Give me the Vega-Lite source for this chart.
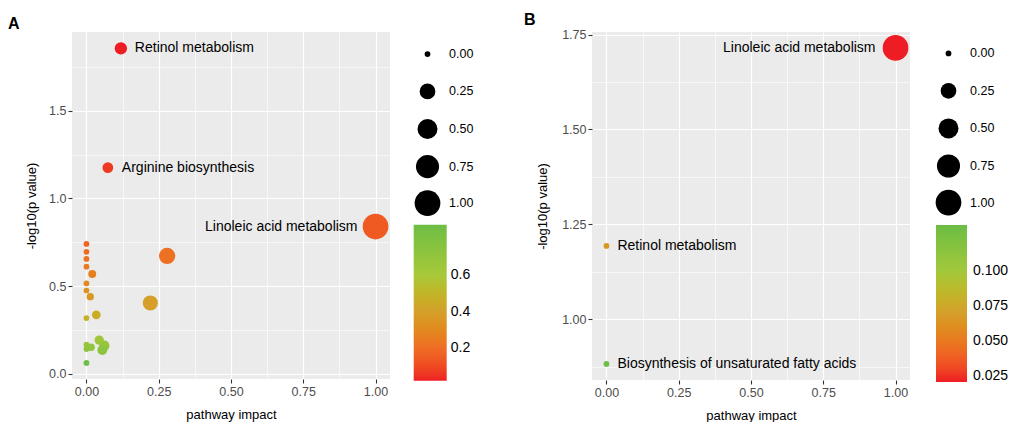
{
  "$schema": "https://vega.github.io/schema/vega-lite/v6.json",
  "background": "white",
  "padding": {"left": 8, "top": 12, "right": 2, "bottom": 2},
  "config": {
    "font": "Liberation Sans",
    "view": {"fill": "#EBEBEB", "stroke": null},
    "axis": {
      "domain": false,
      "tickColor": "#333333",
      "tickSize": 4,
      "tickWidth": 1.1,
      "labelColor": "#4D4D4D",
      "labelFontSize": 12.5,
      "labelFont": "Liberation Sans",
      "labelPadding": 2,
      "titleFont": "Liberation Sans",
      "titleFontSize": 13,
      "titleFontWeight": "normal",
      "titleColor": "#000000",
      "gridColor": "#FFFFFF",
      "gridWidth": 1.2,
      "gridOpacity": 1
    },
    "legend": {
      "labelFont": "Liberation Sans",
      "labelColor": "#000000",
      "padding": 0
    }
  },
  "hconcat": [
    {
      "width": 318,
      "height": 347,
      "title": {"text": "A", "anchor": "start", "frame": "group", "fontSize": 16, "fontWeight": "bold", "color": "#000000", "dx": -64, "offset": 0.5},
      "data": {"values": [
        {"impact": 0.119, "logp": 1.857, "p": 0.0139, "label": "Retinol metabolism"},
        {"impact": 0.074, "logp": 1.176, "p": 0.0667, "label": "Arginine biosynthesis"},
        {"impact": 1.0, "logp": 0.84, "p": 0.1445, "label": "Linoleic acid metabolism"},
        {"impact": 0.279, "logp": 0.672, "p": 0.2128},
        {"impact": 0.221, "logp": 0.404, "p": 0.3945},
        {"impact": 0.0, "logp": 0.741, "p": 0.1816},
        {"impact": 0.0, "logp": 0.696, "p": 0.2014},
        {"impact": 0.0, "logp": 0.655, "p": 0.2213},
        {"impact": 0.0, "logp": 0.611, "p": 0.2449},
        {"impact": 0.02, "logp": 0.569, "p": 0.2698},
        {"impact": 0.0, "logp": 0.515, "p": 0.3055},
        {"impact": 0.0, "logp": 0.475, "p": 0.335},
        {"impact": 0.013, "logp": 0.44, "p": 0.3631},
        {"impact": 0.034, "logp": 0.336, "p": 0.4613},
        {"impact": 0.0, "logp": 0.318, "p": 0.4808},
        {"impact": 0.044, "logp": 0.192, "p": 0.6427},
        {"impact": 0.062, "logp": 0.16, "p": 0.6918},
        {"impact": 0.055, "logp": 0.135, "p": 0.7328},
        {"impact": 0.0, "logp": 0.166, "p": 0.6823},
        {"impact": 0.0, "logp": 0.141, "p": 0.7228},
        {"impact": 0.016, "logp": 0.151, "p": 0.7063},
        {"impact": 0.006, "logp": 0.15, "p": 0.7079},
        {"impact": 0.0, "logp": 0.062, "p": 0.867}
      ]},
      "layer": [
        {
          "mark": {"type": "circle", "opacity": 1},
          "encoding": {
            "x": {"field": "impact", "type": "quantitative", "scale": {"domain": [-0.05, 1.05], "nice": false, "zero": false},
                  "axis": {"values": [0, 0.25, 0.5, 0.75, 1], "format": ".2f", "title": "pathway impact", "titlePadding": 11}},
            "y": {"field": "logp", "type": "quantitative", "scale": {"domain": [-0.03, 1.95], "nice": false, "zero": false},
                  "axis": {"values": [0, 0.5, 1, 1.5], "format": ".1f", "title": "-log10(p value)", "titlePadding": 10}},
            "size": {"field": "impact", "type": "quantitative",
                     "scale": {"type": "pow", "exponent": 0.78, "domain": [0, 1], "range": [33, 660]},
                     "legend": {"title": null, "orient": "none", "legendX": 342.5, "legendY": 15.8, "values": [0, 0.25, 0.5, 0.75, 1], "format": ".2f",
                                "symbolType": "circle", "symbolFillColor": "#000000", "symbolStrokeWidth": 0, "symbolOpacity": 1,
                                "labelFontSize": 12.5, "labelOffset": 8.5, "rowPadding": 9.6, "gridAlign": "all"}},
            "color": {"field": "p", "type": "quantitative",
                      "scale": {"domain": [0.0232, 0.2, 0.4, 0.6, 0.8745], "range": ["#EE1D24", "#EF6C25", "#D4A02A", "#A8C93A", "#6CBD45"], "clamp": true},
                      "legend": {"title": null, "orient": "none", "legendX": 341.7, "legendY": 192.7, "direction": "vertical",
                                 "gradientLength": 156, "gradientThickness": 33, "gradientStrokeWidth": 0,
                                 "values": [0.2, 0.4, 0.6], "format": ".1f", "labelFontSize": 14, "labelOffset": 4}}
          }
        },
        {
          "transform": [{"filter": "isValid(datum.label) && datum.impact < 0.5"}],
          "mark": {"type": "text", "align": "left", "baseline": "middle", "dx": 14, "fontSize": 14, "color": "#000000", "font": "Liberation Sans"},
          "encoding": {
            "x": {"field": "impact", "type": "quantitative",
                  "axis": {"orient": "top", "values": [0.125, 0.375, 0.625, 0.875], "grid": true, "gridWidth": 0.6, "labels": false, "ticks": false, "title": null}},
            "y": {"field": "logp", "type": "quantitative",
                  "axis": {"orient": "right", "values": [0.25, 0.75, 1.25, 1.75], "grid": true, "gridWidth": 0.6, "labels": false, "ticks": false, "title": null}},
            "text": {"field": "label"}
          }
        },
        {
          "transform": [{"filter": "isValid(datum.label) && datum.impact >= 0.5"}],
          "mark": {"type": "text", "align": "right", "baseline": "middle", "dx": -18, "fontSize": 14, "color": "#000000", "font": "Liberation Sans"},
          "encoding": {
            "x": {"field": "impact", "type": "quantitative", "axis": null},
            "y": {"field": "logp", "type": "quantitative", "axis": null},
            "text": {"field": "label"}
          }
        }
      ],
      "resolve": {"axis": {"x": "independent", "y": "independent"}}
    },
    {
      "width": 318,
      "height": 348,
      "title": {"text": "B", "anchor": "start", "frame": "group", "fontSize": 16, "fontWeight": "bold", "color": "#000000", "dx": -68, "offset": 0.5},
      "data": {"values": [
        {"impact": 1.0, "logp": 1.715, "p": 0.0193, "label": "Linoleic acid metabolism"},
        {"impact": 0.0, "logp": 1.193, "p": 0.0641, "label": "Retinol metabolism"},
        {"impact": 0.0, "logp": 0.882, "p": 0.1312, "label": "Biosynthesis of unsaturated fatty acids"}
      ]},
      "layer": [
        {
          "mark": {"type": "circle", "opacity": 1},
          "encoding": {
            "x": {"field": "impact", "type": "quantitative", "scale": {"domain": [-0.05, 1.05], "nice": false, "zero": false},
                  "axis": {"values": [0, 0.25, 0.5, 0.75, 1], "format": ".2f", "title": "pathway impact", "titlePadding": 11}},
            "y": {"field": "logp", "type": "quantitative", "scale": {"domain": [0.8395, 1.757], "nice": false, "zero": false},
                  "axis": {"values": [1, 1.25, 1.5, 1.75], "format": ".2f", "title": "-log10(p value)", "titlePadding": 12}},
            "size": {"field": "impact", "type": "quantitative",
                     "scale": {"type": "pow", "exponent": 0.78, "domain": [0, 1], "range": [33, 660]},
                     "legend": {"title": null, "orient": "none", "legendX": 343.5, "legendY": 15.2, "values": [0, 0.25, 0.5, 0.75, 1], "format": ".2f",
                                "symbolType": "circle", "symbolFillColor": "#000000", "symbolStrokeWidth": 0, "symbolOpacity": 1,
                                "labelFontSize": 12.5, "labelOffset": 8.5, "rowPadding": 9.6, "gridAlign": "all"}},
            "color": {"field": "p", "type": "quantitative",
                      "scale": {"domain": [0.0205, 0.0438, 0.0701, 0.0966, 0.1325], "range": ["#EE1D24", "#EF6C25", "#D4A02A", "#A8C93A", "#6CBD45"], "clamp": true},
                      "legend": {"title": null, "orient": "none", "legendX": 344, "legendY": 193, "direction": "vertical",
                                 "gradientLength": 157, "gradientThickness": 31, "gradientStrokeWidth": 0,
                                 "values": [0.025, 0.05, 0.075, 0.1], "format": ".3f", "labelFontSize": 14, "labelOffset": 6}}
          }
        },
        {
          "transform": [{"filter": "isValid(datum.label) && datum.impact < 0.5"}],
          "mark": {"type": "text", "align": "left", "baseline": "middle", "dx": 11, "fontSize": 14, "color": "#000000", "font": "Liberation Sans"},
          "encoding": {
            "x": {"field": "impact", "type": "quantitative",
                  "axis": {"orient": "top", "values": [0.125, 0.375, 0.625, 0.875], "grid": true, "gridWidth": 0.6, "labels": false, "ticks": false, "title": null}},
            "y": {"field": "logp", "type": "quantitative",
                  "axis": {"orient": "right", "values": [0.875, 1.125, 1.375, 1.625], "grid": true, "gridWidth": 0.6, "labels": false, "ticks": false, "title": null}},
            "text": {"field": "label"}
          }
        },
        {
          "transform": [{"filter": "isValid(datum.label) && datum.impact >= 0.5"}],
          "mark": {"type": "text", "align": "right", "baseline": "middle", "dx": -20, "fontSize": 14, "color": "#000000", "font": "Liberation Sans"},
          "encoding": {
            "x": {"field": "impact", "type": "quantitative", "axis": null},
            "y": {"field": "logp", "type": "quantitative", "axis": null},
            "text": {"field": "label"}
          }
        }
      ],
      "resolve": {"axis": {"x": "independent", "y": "independent"}}
    }
  ],
  "spacing": 202,
  "bounds": "flush",
  "resolve": {"scale": {"color": "independent", "size": "independent"}, "legend": {"color": "independent", "size": "independent"}}
}
